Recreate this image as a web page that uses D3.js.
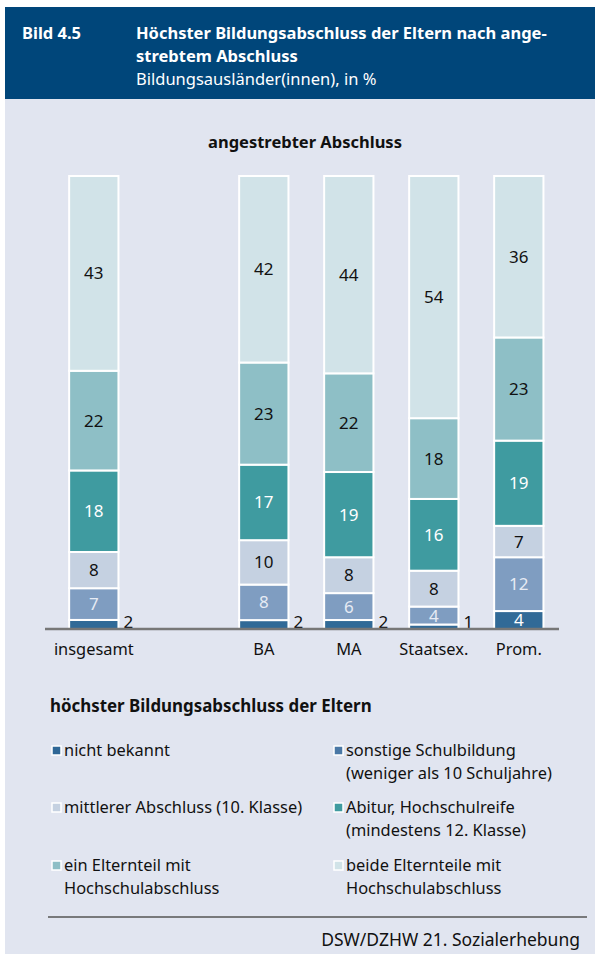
<!DOCTYPE html>
<html>
<head>
<meta charset="utf-8">
<script src="https://cdn.jsdelivr.net/npm/d3@7"></script>
<style>
  body { margin: 0; background: #fff; }
  svg { display: block; font-family: "Noto Sans", sans-serif; }
</style>
</head>
<body>
<svg id="chart" width="595" height="954"></svg>
<script>
// categories (one blank slot between insgesamt and BA)
const categories = ["insgesamt", "", "BA", "MA", "Staatsex.", "Prom."];
const barCategories = ["insgesamt", "BA", "MA", "Staatsex.", "Prom."];

// series, bottom to top
const seriesKeys = ["nb", "sonst", "mittel", "abitur", "einEl", "beideEl"];
const nichtBekannt = [2, 2, 2, 1, 4];
const sonstige = [7, 8, 6, 4, 12];
const mittlerer = [8, 10, 8, 8, 7];
const abitur = [18, 17, 19, 16, 19];
const einElternteil = [22, 23, 22, 18, 23];
const beideElternteile = [43, 42, 44, 54, 36];

const legendLabels = [
  ["nicht bekannt"],
  ["sonstige Schulbildung", "(weniger als 10 Schuljahre)"],
  ["mittlerer Abschluss (10. Klasse)"],
  ["Abitur, Hochschulreife", "(mindestens 12. Klasse)"],
  ["ein Elternteil mit", "Hochschulabschluss"],
  ["beide Elternteile mit", "Hochschulabschluss"]
];

const colors = ["#316a97", "#7f9dc1", "#c5d1e1", "#3f9ba0", "#8ebfc6", "#d1e3e8"];
const legendColors = ["#2f6796", "#4a78a6", "#c5d1e1", "#3f9ba0", "#8ebfc6", "#d1e3e8"];
const labelColors = ["#ffffff", "#e6ebf4", "#111111", "#ffffff", "#111111", "#111111"];

const table = barCategories.map((c, i) => ({
  cat: c,
  nb: nichtBekannt[i], sonst: sonstige[i], mittel: mittlerer[i],
  abitur: abitur[i], einEl: einElternteil[i], beideEl: beideElternteile[i]
}));

const svg = d3.select("#chart");

// backgrounds
svg.append("rect").attr("x", 0).attr("y", 0).attr("width", 595).attr("height", 954).attr("fill", "#fff");
svg.append("rect").attr("x", 5).attr("y", 99).attr("width", 590).attr("height", 855).attr("fill", "#e1e5f0");
svg.append("rect").attr("x", 5).attr("y", 7).attr("width", 590).attr("height", 92).attr("fill", "#00467a");

// header
const head = svg.append("g").attr("fill", "#fff");
head.append("text").attr("x", 22).attr("y", 39).attr("font-weight", 700).attr("font-size", 16.5).text("Bild 4.5");
head.append("text").attr("x", 136).attr("y", 39).attr("font-weight", 700).attr("font-size", 16.5)
  .text("Höchster Bildungsabschluss der Eltern nach ange-");
head.append("text").attr("x", 136).attr("y", 62).attr("font-weight", 700).attr("font-size", 16.5)
  .text("strebtem Abschluss");
head.append("text").attr("x", 136).attr("y", 85).attr("font-size", 16.5)
  .text("Bildungsausländer(innen), in %");

svg.append("text").attr("x", 305).attr("y", 148).attr("text-anchor", "middle")
  .attr("font-weight", 700).attr("font-size", 16.5).attr("fill", "#111")
  .text("angestrebter Abschluss");

// scales
const x = d3.scaleBand().domain(categories).range([51.3, 561.3]).paddingInner(0.42).paddingOuter(0.21);
const y = d3.scaleLinear().domain([0, 1]).range([629, 176]);

const stack = d3.stack().keys(seriesKeys).offset(d3.stackOffsetExpand);
const series = stack(table);

const outside = (si, v) => si === 0 && v < 3;

const g = svg.append("g");
series.forEach((s, si) => {
  const layer = g.append("g");
  layer.selectAll("rect").data(s).enter().append("rect")
    .attr("x", d => x(d.data.cat))
    .attr("width", x.bandwidth())
    .attr("y", d => y(d[1]))
    .attr("height", d => y(d[0]) - y(d[1]))
    .attr("fill", colors[si])
    .attr("stroke", "#fff")
    .attr("stroke-width", 2);

  layer.selectAll("text").data(s).enter().append("text")
    .attr("x", d => outside(si, d.data[s.key])
      ? x(d.data.cat) + x.bandwidth() + 10
      : x(d.data.cat) + x.bandwidth() / 2)
    .attr("y", d => outside(si, d.data[s.key])
      ? y(0) - 1
      : (y(d[0]) + y(d[1])) / 2 + 6)
    .attr("text-anchor", "middle")
    .attr("font-size", 17)
    .attr("fill", d => outside(si, d.data[s.key]) ? "#111" : labelColors[si])
    .text(d => d.data[s.key]);
});

// baseline axis
const xAxis = d3.axisBottom(x).tickSize(0).tickPadding(14);
const axG = svg.append("g").attr("transform", `translate(0,${y(0)})`).call(xAxis);
axG.select(".domain").attr("stroke", "#777").attr("stroke-width", 2.5)
  .attr("d", "M45,0H559");
axG.selectAll("text").attr("font-size", 16.4).attr("fill", "#111").attr("font-family", "Noto Sans, sans-serif");

// legend
svg.append("text").attr("x", 50).attr("y", 712).attr("font-weight", 700).attr("font-size", 16.9)
  .attr("fill", "#111").text("höchster Bildungsabschluss der Eltern");

const legX = [52, 334];
const legY = [756, 813, 871];
legendLabels.forEach((lines, k) => {
  const lx = legX[k % 2], ly = legY[Math.floor(k / 2)];
  svg.append("rect").attr("x", lx).attr("y", ly - 10).attr("width", 9).attr("height", 9)
    .attr("fill", legendColors[k]).attr("stroke", "#fff").attr("stroke-width", 1.5);
  lines.forEach((t, j) => {
    svg.append("text").attr("x", lx + 12).attr("y", ly + j * 23).attr("font-size", 16.4)
      .attr("fill", "#111").text(t);
  });
});

// footer
svg.append("line").attr("x1", 48).attr("x2", 587).attr("y1", 917).attr("y2", 917)
  .attr("stroke", "#555").attr("stroke-width", 1.5);
svg.append("text").attr("x", 580).attr("y", 946).attr("text-anchor", "end").attr("font-size", 17.5)
  .attr("fill", "#111").text("DSW/DZHW 21. Sozialerhebung");
</script>
</body>
</html>
